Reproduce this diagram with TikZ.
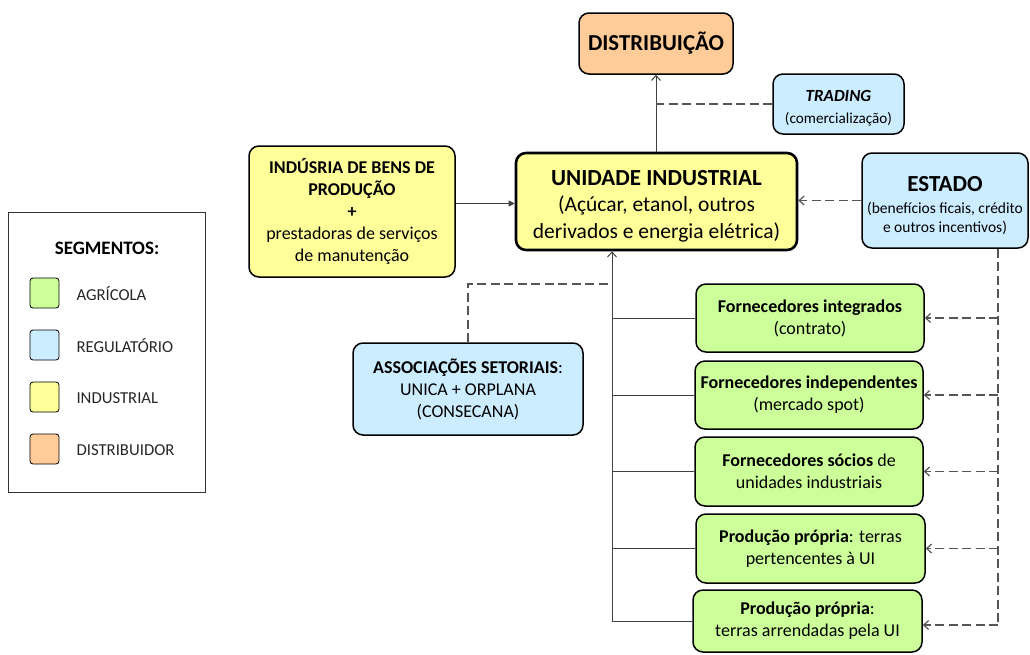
\documentclass[tikz,border=0pt]{standalone}
\usepackage{fontspec}
\setmainfont{Carlito}
\usetikzlibrary{arrows.meta}
\definecolor{cagr}{RGB}{204,255,153}
\definecolor{creg}{RGB}{204,236,255}
\definecolor{cind}{RGB}{255,255,153}
\definecolor{cdis}{RGB}{255,204,153}
\definecolor{cline}{RGB}{64,64,64}
\definecolor{cdash}{RGB}{85,85,85}
\tikzset{
  box/.style={draw=black, line width=1.5pt, rounded corners=10pt, align=center, inner sep=1pt},
  inner/.style={align=center, inner sep=0pt},
  txt/.style={font=\fontsize{18}{22}\selectfont},
  conn/.style={draw=cline, line width=1pt},
  dconn/.style={draw=cdash, line width=1.2pt, dash pattern=on 9pt off 4.5pt},
  barb/.style={-{Straight Barb[length=5pt,width=9pt]}},
  tri/.style={-{Triangle[length=6pt,width=6pt]}},
  legsq/.style={draw=black, line width=0.8pt, rounded corners=3pt, minimum width=29pt, minimum height=30pt, inner sep=0pt},
  leglab/.style={anchor=west, font=\fontsize{16.7}{19}\selectfont, text=black!85}
}
\begin{document}
\begin{tikzpicture}[x=1pt,y=-1pt]
\useasboundingbox (0,0) rectangle (1030,654);
% boxes
\node[box, fill=cdis, minimum width=154pt, minimum height=61pt, font=\bfseries\fontsize{22.8}{26}\selectfont] (dist) at (656,43.5) {DISTRIBUIÇÃO};
\node[box, fill=creg, minimum width=131pt, minimum height=60pt] (trad) at (838.5,104) {};
\node[inner, font=\fontsize{15.2}{22}\selectfont] (tradt) at ([yshift=-4pt]trad.center) {{\fontsize{17}{22}\selectfont\textbf{\textit{TRADING}}}\\(comercialização)};
\node[box, fill=cind, line width=2.6pt, minimum width=281pt, minimum height=97pt] (ui) at (656.5,201.5) {};
\node[inner, font=\fontsize{21.5}{26.5}\selectfont] (uit) at ([yshift=-4.5pt]ui.center) {{\bfseries\fontsize{23}{26.5}\selectfont UNIDADE INDUSTRIAL}\\(Açúcar, etanol, outros\\derivados e energia elétrica)};
\node[box, fill=creg, minimum width=166pt, minimum height=95pt] (est) at (945,200.5) {};
\node[inner, font=\fontsize{15.5}{18.5}\selectfont] (estt) at ([yshift=-5pt]est.center) {{\bfseries\fontsize{23}{27}\selectfont ESTADO}\\[4pt](benefícios ficais, crédito\\e outros incentivos)};
\node[box, fill=cind, txt, minimum width=206pt, minimum height=131pt] (ind) at (352,211.5) {\textbf{INDÚSRIA DE BENS DE}\\\textbf{PRODUÇÃO}\\\textbf{+}\\prestadoras de serviços\\de manutenção};
\node[box, fill=creg, txt, minimum width=230pt, minimum height=92pt] (asso) at (468,389) {\textbf{ASSOCIAÇÕES SETORIAIS}:\\UNICA + ORPLANA\\(CONSECANA)};
\node[box, fill=cagr, txt, minimum width=228pt, minimum height=68pt] (g1) at (810,318) {\textbf{Fornecedores integrados}\\(contrato)};
\node[box, fill=cagr, txt, minimum width=228pt, minimum height=68pt] (g2) at (809,395) {\textbf{Fornecedores independentes}\\(mercado spot)};
\node[box, fill=cagr, txt, minimum width=228pt, minimum height=69pt] (g3) at (809,471.5) {\textbf{Fornecedores sócios} de\\unidades industriais};
\node[box, fill=cagr, txt, minimum width=229pt, minimum height=69pt] (g4) at (810.5,548.5) {\textbf{Produção própria}: terras\\pertencentes à UI};
\node[box, fill=cagr, txt, minimum width=229pt, minimum height=62pt] (g5) at (807.5,621) {\textbf{Produção própria}:\\terras arrendadas pela UI};
% legend
\node[draw=black!80, line width=0.8pt, minimum width=197pt, minimum height=280pt, inner sep=0pt] (leg) at (106.5,352) {};
\node[font=\bfseries\fontsize{19}{22}\selectfont] (legt) at (107,248) {SEGMENTOS:};
\node[legsq, fill=cagr] (l1) at (44.5,293) {};
\node[legsq, fill=creg] (l2) at (44.5,345) {};
\node[legsq, fill=cind] (l3) at (44.5,397) {};
\node[legsq, fill=cdis] (l4) at (44.5,449) {};
\node[leglab] (t1) at (73,294) {AGRÍCOLA};
\node[leglab] (t2) at (73,346) {REGULATÓRIO};
\node[leglab] (t3) at (73,398) {INDUSTRIAL};
\node[leglab] (t4) at (73,450) {DISTRIBUIDOR};
% connectors
\draw[conn, barb] (ui.north -| dist.south) -- (dist.south);
\draw[dconn] (trad.west) -- (trad.west -| dist.south);
\draw[dconn, barb] (est.west) -- (est.west -| ui.east);
\draw[conn, tri] ([yshift=8pt]ind.east) -- ([yshift=8pt]ind.east -| ui.west);
\coordinate (tbot) at (612,622);
\coordinate (tjoin) at (612,284);
\draw[conn, barb] (tbot) -- (tbot |- ui.south);
\draw[dconn] (asso.north) |- (tjoin);
\foreach \g in {g1,g2,g3,g4,g5} {\draw[conn] (\g.west -| tbot) -- (\g.west);}
\coordinate (rbot) at (998,625);
\draw[dconn] (est.south -| rbot) -- (rbot);
\foreach \g in {g1,g2,g3,g4} {\draw[dconn, barb] (\g.east -| rbot) -- (\g.east);}
\draw[dconn, barb] (rbot) -- (rbot -| g5.east);
\end{tikzpicture}
\end{document}
